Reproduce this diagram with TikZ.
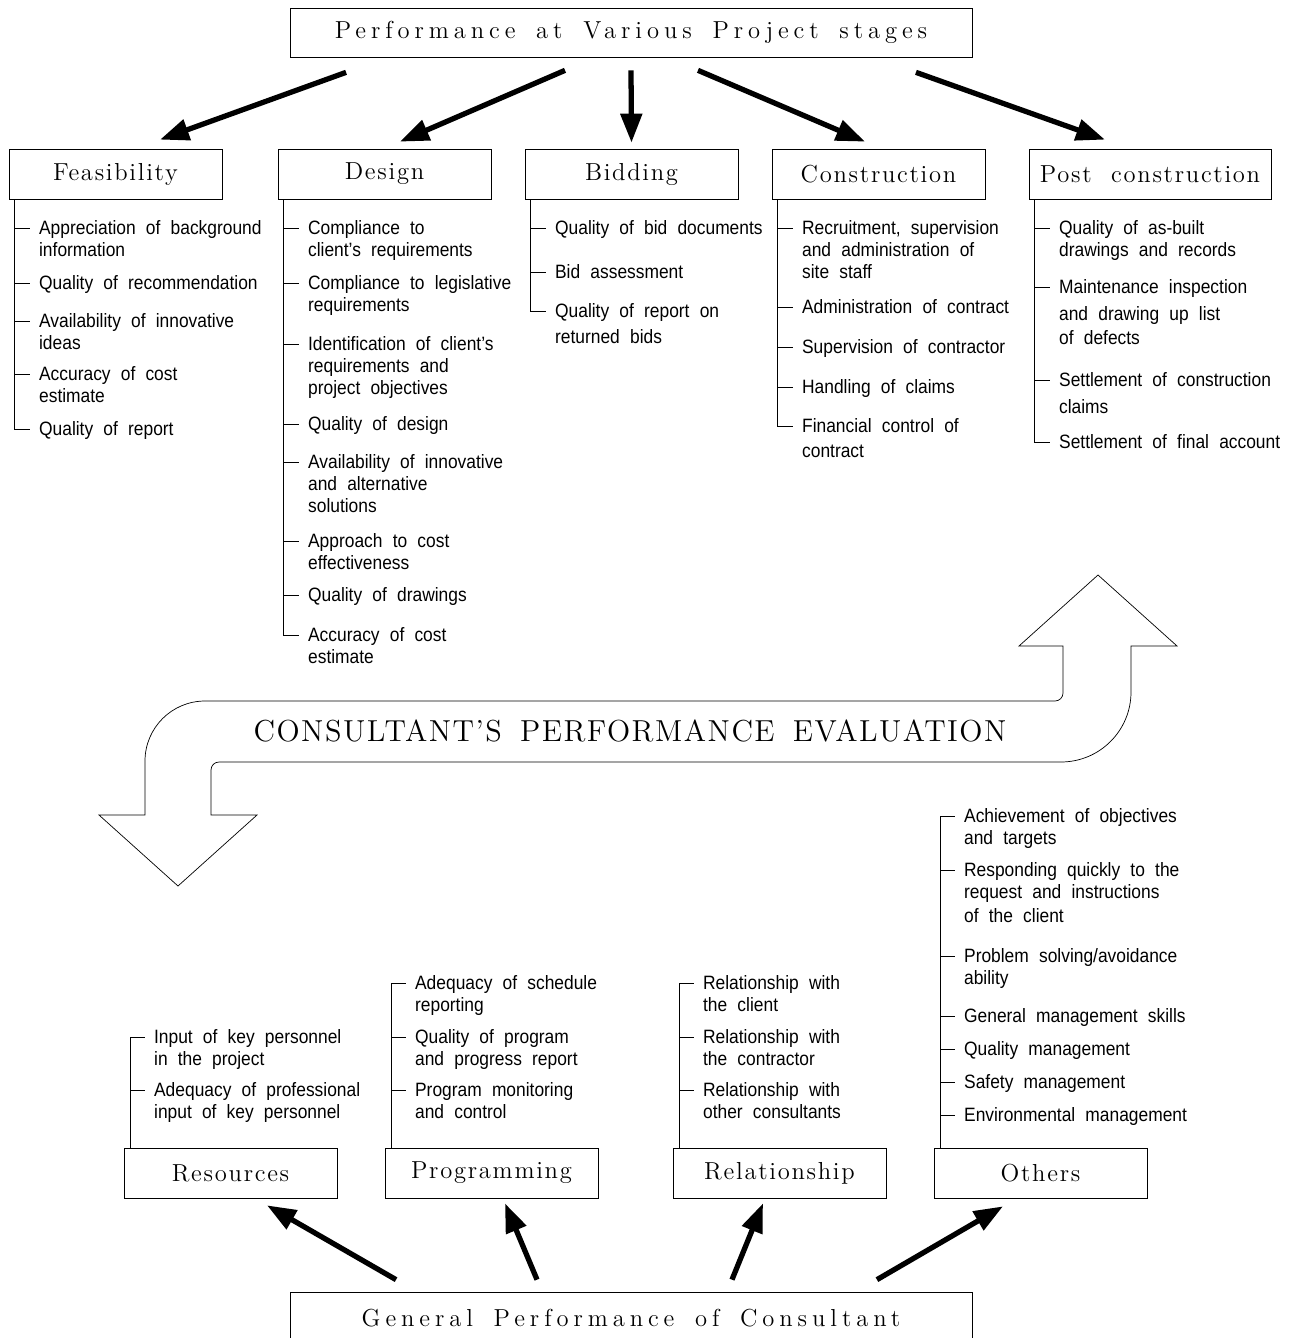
\documentclass[tikz,border=0pt]{standalone}
\usepackage{fontspec}
\usepackage{tikz}
\usetikzlibrary{arrows.meta}
\newfontfamily\itemfont{Liberation Sans}[FakeStretch=0.9]
\newfontfamily\headfont{lmroman12-regular.otf}[LetterSpace=20, WordSpace=1.6]
\newfontfamily\stagefont{lmroman12-regular.otf}[LetterSpace=7, WordSpace=2]
\newfontfamily\evalfont{lmroman12-regular.otf}[LetterSpace=5, WordSpace=1.6]
\newcommand{\widespace}{\spaceskip=5.8pt\relax}
\begin{document}
\begin{tikzpicture}[x = 0.02cm, y = -0.02cm, > = {Triangle[length=0.58cm, width=0.42cm]},
head/.style={ rectangle, draw, minimum width = 13.64cm, minimum height = 0.98cm, font = \headfont\fontsize{14}{16}\selectfont },
stage/.style={ rectangle, draw, minimum width = 4.26cm, minimum height = 1cm, font = \stagefont\fontsize{14}{16}\selectfont },
item/.style={ anchor = base west, yshift = -3.5pt, inner xsep = 5pt, inner ysep = 0pt, text width = 6cm, align = left, font = \itemfont\fontsize{11}{12.5}\selectfont, execute at begin node = \widespace },
big/.style={ ->, line width = 3pt }
]
\useasboundingbox (0,0) rectangle (1297,1338);

%project stages and their arrows
\node (top) at (631,32.5) [head] {Performance at Various Project stages};
\node (fea) at (115.5,174) [stage] {Feasibility};
\node (des) at (384.5,174) [stage] {Design};
\node (bid) at (631.5,174) [stage] {Bidding};
\node (con) at (878.5,174) [stage] {Construction};
\node (post) at (1150,174) [stage, minimum width = 4.84cm] {Post construction};
\draw [big] ([xshift=-5.7cm, yshift=-0.3cm]top.south) to ([xshift=0.89cm, yshift=0.18cm]fea.north);
\draw [big] ([xshift=-1.32cm, yshift=-0.26cm]top.south) to ([xshift=0.31cm, yshift=0.14cm]des.north);
\draw [big] ([yshift=-0.26cm]top.south) to ([yshift=0.12cm]bid.north);
\draw [big] ([xshift=1.34cm, yshift=-0.26cm]top.south) to ([xshift=-0.27cm, yshift=0.14cm]con.north);
\draw [big] ([xshift=5.7cm, yshift=-0.3cm]top.south) to ([xshift=-0.9cm, yshift=0.18cm]post.north);

%feasibility
\node (f1) at (30,228) [item] {Appreciation of background\\information};
\node (f2) at (30,283) [item] {Quality of recommendation};
\node (f3) at (30,321) [item] {Availability of innovative\\ideas};
\node (f4) at (30,374) [item] {Accuracy of cost\\estimate};
\node (f5) at (30,429) [item] {Quality of report};
\coordinate (fs) at ([xshift=0.12cm]fea.south west);
\foreach \i in {1,...,5} \draw (fs) |- ([yshift=3.5pt]f\i.base west);

%design
\node (d1) at (299,228) [item] {Compliance to\\client’s requirements};
\node (d2) at (299,283) [item] {Compliance to legislative\\requirements};
\node (d3) at (299,344) [item] {Identification of client’s\\requirements and\\project objectives};
\node (d4) at (299,424) [item] {Quality of design};
\node (d5) at (299,462) [item] {Availability of innovative\\and alternative\\solutions};
\node (d6) at (299,541) [item] {Approach to cost\\effectiveness};
\node (d7) at (299,595) [item] {Quality of drawings};
\node (d8) at (299,635) [item] {Accuracy of cost\\estimate};
\coordinate (ds) at ([xshift=0.12cm]des.south west);
\foreach \i in {1,...,8} \draw (ds) |- ([yshift=3.5pt]d\i.base west);

%bidding
\node (b1) at (546,228) [item] {Quality of bid documents};
\node (b2) at (546,272) [item] {Bid assessment};
\node (b3) at (546,311) [item] {Quality of report on\\[2.3pt]returned bids};
\coordinate (bs) at ([xshift=0.12cm]bid.south west);
\foreach \i in {1,...,3} \draw (bs) |- ([yshift=3.5pt]b\i.base west);

%construction
\node (c1) at (793,228) [item] {Recruitment, supervision\\and administration of\\site staff};
\node (c2) at (793,307) [item] {Administration of contract};
\node (c3) at (793,347) [item] {Supervision of contractor};
\node (c4) at (793,387) [item] {Handling of claims};
\node (c5) at (793,426) [item] {Financial control of\\[1.7pt]contract};
\coordinate (cs) at ([xshift=0.12cm]con.south west);
\foreach \i in {1,...,5} \draw (cs) |- ([yshift=3.5pt]c\i.base west);

%post construction
\node (p1) at (1050,228) [item] {Quality of as-built\\drawings and records};
\node (p2) at (1050,287) [item] {Maintenance inspection\\[2.8pt]and drawing up list\\[1.7pt]of defects};
\node (p3) at (1050,380) [item] {Settlement of construction\\[2.8pt]claims};
\node (p4) at (1050,442) [item] {Settlement of final account};
\coordinate (ps) at ([xshift=0.12cm]post.south west);
\foreach \i in {1,...,4} \draw (ps) |- ([yshift=3.5pt]p\i.base west);

%evaluation arrow
\draw (178,886) -- (99,815) -- (145,815) -- (145,761) arc [start angle=180, end angle=90, radius=1.2cm]
  -- (1055,701) arc [start angle=-90, end angle=0, radius=0.16cm] -- (1063,646) -- (1019,646) -- (1098,575)
  -- (1177,646) -- (1131,646) -- (1131,692) arc [start angle=0, end angle=-90, radius=1.4cm]
  -- (219,762) arc [start angle=90, end angle=180, radius=0.16cm] -- (211,815) -- (257,815) -- cycle;
\node (eval) at (630,731) [font = \evalfont\fontsize{17.28}{20}\selectfont] {CONSULTANT’S PERFORMANCE EVALUATION};

%general performance and its arrows
\node (gen) at (631,1318.5) [head, minimum height = 1.06cm] {General Performance of Consultant};
\node (res) at (230.5,1173) [stage] {Resources};
\node (prg) at (491.5,1173) [stage] {Programming};
\node (rel) at (779.5,1173) [stage] {Relationship};
\node (oth) at (1040.5,1173) [stage] {Others};
\draw [big] ([xshift=-4.7cm, yshift=0.24cm]gen.north) to ([xshift=0.73cm, yshift=-0.14cm]res.south);
\draw [big] ([xshift=-1.88cm, yshift=0.24cm]gen.north) to ([xshift=0.27cm, yshift=-0.1cm]prg.south);
\draw [big] ([xshift=2.02cm, yshift=0.24cm]gen.north) to ([xshift=-0.33cm, yshift=-0.1cm]rel.south);
\draw [big] ([xshift=4.92cm, yshift=0.24cm]gen.north) to ([xshift=-0.75cm, yshift=-0.16cm]oth.south);

%resources
\node (r1) at (145,1037) [item] {Input of key personnel\\in the project};
\node (r2) at (145,1090) [item] {Adequacy of professional\\input of key personnel};
\coordinate (rs) at ([xshift=0.14cm]res.north west);
\foreach \i in {1,2} \draw (rs) |- ([yshift=3.5pt]r\i.base west);

%programming
\node (g1) at (406,983) [item] {Adequacy of schedule\\reporting};
\node (g2) at (406,1037) [item] {Quality of program\\and progress report};
\node (g3) at (406,1090) [item] {Program monitoring\\and control};
\coordinate (gs) at ([xshift=0.14cm]prg.north west);
\foreach \i in {1,...,3} \draw (gs) |- ([yshift=3.5pt]g\i.base west);

%relationship
\node (l1) at (694,983) [item] {Relationship with\\the client};
\node (l2) at (694,1037) [item] {Relationship with\\the contractor};
\node (l3) at (694,1090) [item] {Relationship with\\other consultants};
\coordinate (ls) at ([xshift=0.14cm]rel.north west);
\foreach \i in {1,...,3} \draw (ls) |- ([yshift=3.5pt]l\i.base west);

%others
\node (o1) at (955,816) [item] {Achievement of objectives\\and targets};
\node (o2) at (955,870) [item] {Responding quickly to the\\request and instructions\\[1.3pt]of the client};
\node (o3) at (955,956) [item] {Problem solving/avoidance\\ability};
\node (o4) at (955,1016) [item] {General management skills};
\node (o5) at (955,1049) [item] {Quality management};
\node (o6) at (955,1082) [item] {Safety management};
\node (o7) at (955,1115) [item] {Environmental management};
\coordinate (os) at ([xshift=0.14cm]oth.north west);
\foreach \i in {1,...,7} \draw (os) |- ([yshift=3.5pt]o\i.base west);
\end{tikzpicture}
\end{document}
